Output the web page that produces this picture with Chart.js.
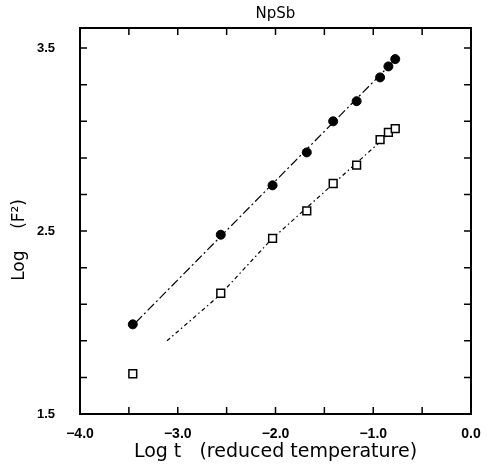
<!DOCTYPE html>
<html>
<head>
<meta charset="utf-8">
<script src="https://cdn.jsdelivr.net/npm/chart.js@4.4.0/dist/chart.umd.min.js"></script>
<style>
  body { margin: 0; background: #fff; }
  #wrap { width: 490px; height: 471px; }
</style>
</head>
<body>
<div id="wrap"><canvas id="npsbChart" width="490" height="471"></canvas></div>
<script>
// values
const logT = [-3.46, -2.56, -2.03, -1.68, -1.41, -1.17, -0.93, -0.845, -0.775];
const filledLogF2 = [1.99, 2.48, 2.75, 2.93, 3.10, 3.21, 3.34, 3.40, 3.44];
const openLogF2 = [1.72, 2.16, 2.46, 2.61, 2.76, 2.86, 3.00, 3.04, 3.06];

// fit lines through the points
const filledFitT = [-3.43, -0.77];
const filledFitF2 = [2.00, 3.44];
const openFitT = [-3.11, -2.57, -2.05, -0.78];
const openFitF2 = [1.90, 2.15, 2.45, 3.06];

// axes
const xTickValues = [-4.0, -3.5, -3.0, -2.5, -2.0, -1.5, -1.0, -0.5, 0.0];
const xLabelValues = [-4.0, -3.0, -2.0, -1.0, 0.0];
const yTickValues = [1.5, 1.7, 1.9, 2.1, 2.3, 2.5, 2.7, 2.9, 3.1, 3.3, 3.5];
const yLabelValues = [1.5, 2.5, 3.5];

const numberFont = '"Liberation Sans", Arial, Helvetica, sans-serif';
const textFont = '"DejaVu Sans", Verdana, sans-serif';

function toPoints(xs, ys) {
  return xs.map((x, i) => ({ x: x, y: ys[i] }));
}

function formatTick(value) {
  return value.toFixed(1).replace('-', '\u2212');
}

// box around the plot with inward ticks on all four sides
const frameTicks = {
  id: 'frameTicks',
  afterDraw(chart) {
    const { ctx, chartArea, scales } = chart;
    const { left, right, top, bottom } = chartArea;
    const tickLen = 7;
    ctx.save();
    ctx.strokeStyle = '#000';
    ctx.lineWidth = 1.5;
    xTickValues.forEach(v => {
      const px = scales.x.getPixelForValue(v);
      ctx.beginPath();
      ctx.moveTo(px, bottom);
      ctx.lineTo(px, bottom - tickLen);
      ctx.moveTo(px, top);
      ctx.lineTo(px, top + tickLen);
      ctx.stroke();
    });
    yTickValues.forEach(v => {
      const py = scales.y.getPixelForValue(v);
      ctx.beginPath();
      ctx.moveTo(left, py);
      ctx.lineTo(left + tickLen, py);
      ctx.moveTo(right, py);
      ctx.lineTo(right - tickLen, py);
      ctx.stroke();
    });
    ctx.lineWidth = 2;
    ctx.strokeRect(left, top, right - left, bottom - top);
    ctx.restore();
  }
};

const npsbChart = new Chart(document.querySelector('#npsbChart'), {
  type: 'scatter',
  data: {
    datasets: [{
      label: 'filled',
      data: toPoints(logT, filledLogF2),
      pointStyle: 'circle',
      pointRadius: 4.5,
      backgroundColor: '#000',
      borderColor: '#000',
      borderWidth: 1
    }, {
      label: 'open',
      data: toPoints(logT, openLogF2),
      pointStyle: 'rect',
      pointRadius: 5.5,
      backgroundColor: '#fff',
      borderColor: '#000',
      borderWidth: 1.5
    }, {
      label: 'filled fit',
      data: toPoints(filledFitT, filledFitF2),
      showLine: true,
      pointRadius: 0,
      borderColor: '#000',
      borderWidth: 1.2,
      borderDash: [9, 3, 2, 3]
    }, {
      label: 'open fit',
      data: toPoints(openFitT, openFitF2),
      showLine: true,
      pointRadius: 0,
      borderColor: '#000',
      borderWidth: 1.2,
      borderDash: [4, 3, 1.5, 3]
    }]
  },
  options: {
    responsive: false,
    animation: false,
    layout: { padding: { left: 0, right: 19, top: 0, bottom: 0 } },
    plugins: {
      legend: { display: false },
      tooltip: { enabled: false },
      title: {
        display: true,
        fullSize: false,
        text: 'NpSb',
        color: '#000',
        font: { family: textFont, size: 15, weight: 'normal', lineHeight: 1.2 },
        padding: { top: 5, bottom: 5 }
      }
    },
    scales: {
      x: {
        type: 'linear',
        min: -4.0,
        max: 0.0,
        afterBuildTicks: axis => { axis.ticks = xLabelValues.map(v => ({ value: v })); },
        afterFit: axis => { axis.height = 57; },
        // ticks themselves are drawn by frameTicks; tickLength only offsets the labels
        grid: { display: false, drawTicks: true, tickLength: 10 },
        border: { display: false },
        ticks: {
          color: '#000',
          padding: 2,
          maxRotation: 0,
          font: { family: numberFont, size: 14, weight: 'bold' },
          callback: value => formatTick(value)
        },
        title: {
          display: true,
          text: 'Log t   (reduced temperature)',
          color: '#000',
          font: { family: textFont, size: 19, lineHeight: 1.2 },
          padding: { top: 0, bottom: 8 }
        }
      },
      y: {
        type: 'linear',
        min: 1.5,
        max: 3.61,
        afterBuildTicks: axis => { axis.ticks = yLabelValues.map(v => ({ value: v })); },
        afterFit: axis => { axis.width = 80; },
        grid: { display: false, drawTicks: true, tickLength: 22 },
        border: { display: false },
        ticks: {
          color: '#000',
          padding: 3,
          font: { family: numberFont, size: 13, weight: 'bold' },
          callback: value => formatTick(value)
        },
        title: {
          display: true,
          text: 'Log    (F\u00b2)       ',
          color: '#000',
          font: { family: textFont, size: 17, lineHeight: 1.2 },
          padding: { top: 9, bottom: 0 }
        }
      }
    }
  },
  plugins: [frameTicks]
});
</script>
</body>
</html>
